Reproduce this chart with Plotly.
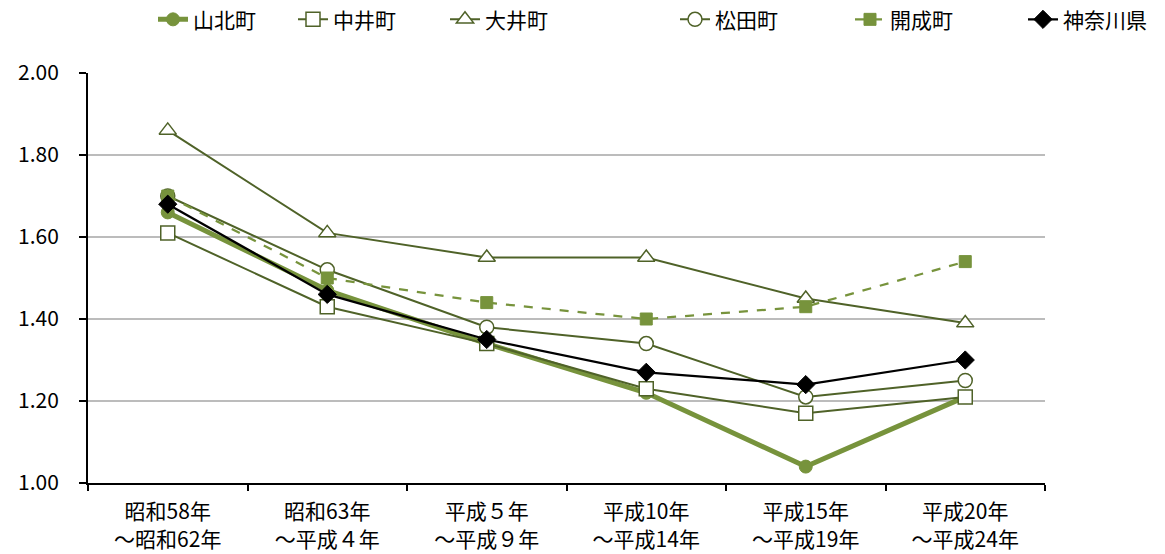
import plotly.graph_objects as go

categories = ["昭和58年<br>～昭和62年", "昭和63年<br>～平成４年", "平成５年<br>～平成９年",
              "平成10年<br>～平成14年", "平成15年<br>～平成19年", "平成20年<br>～平成24年"]

yamakita = [1.66, 1.47, 1.34, 1.22, 1.04, 1.21]
nakai = [1.61, 1.43, 1.34, 1.23, 1.17, 1.21]
ooi = [1.86, 1.61, 1.55, 1.55, 1.45, 1.39]
matsuda = [1.70, 1.52, 1.38, 1.34, 1.21, 1.25]
kaisei = [1.70, 1.50, 1.44, 1.40, 1.43, 1.54]
kanagawa = [1.68, 1.46, 1.35, 1.27, 1.24, 1.30]

y_ticks = [1.0, 1.2, 1.4, 1.6, 1.8, 2.0]
y_ticktext = ["1.00", "1.20", "1.40", "1.60", "1.80", "2.00"]
grid_vals = [1.2, 1.4, 1.6, 1.8]

FONT = "Noto Sans CJK JP"
DARK = "#4F6228"
LIGHT = "#77933C"

series = [
    ("山北町", yamakita, dict(color=LIGHT, width=5), dict(symbol="circle", size=13, color=LIGHT, line=dict(color=LIGHT, width=1))),
    ("中井町", nakai, dict(color=DARK, width=2), dict(symbol="square", size=14, color="white", line=dict(color=DARK, width=1.5))),
    ("大井町", ooi, dict(color=DARK, width=2), dict(symbol="triangle-up", size=15, color="white", line=dict(color=DARK, width=1.5))),
    ("松田町", matsuda, dict(color=DARK, width=2), dict(symbol="circle", size=14, color="white", line=dict(color=DARK, width=1.5))),
    ("開成町", kaisei, dict(color=LIGHT, width=2.25, dash="dash"), dict(symbol="square", size=12, color=LIGHT, line=dict(color=LIGHT, width=1))),
    ("神奈川県", kanagawa, dict(color="black", width=2.25), dict(symbol="diamond", size=14, color="black", line=dict(color="black", width=1))),
]

legend_text_px = [198, 338, 490, 720, 895, 1068]
L, R, T, B = 88, 120, 73, 71
W, H = 1165, 554
pw = W - L - R

fig = go.Figure()
legend_layouts = {}
for i, (name, vals, line, marker) in enumerate(series):
    key = "legend" if i == 0 else f"legend{i+1}"
    fig.add_trace(go.Scatter(x=categories, y=vals, name=name, mode="lines+markers",
                             line=line, marker=marker, legend=key))
    xpx = legend_text_px[i] - 45
    legend_layouts[key] = dict(x=(xpx - L) / pw, xanchor="left", y=1.13, yanchor="middle",
                               orientation="h", font=dict(family=FONT, size=21, color="black"),
                               bgcolor="rgba(0,0,0,0)", itemwidth=30)

shapes = [dict(type="line", xref="paper", yref="y", x0=0, x1=1, y0=g, y1=g,
               line=dict(color="#A6A6A6", width=1.5), layer="below") for g in grid_vals]

fig.update_layout(
    width=W, height=H,
    margin=dict(l=L, r=R, t=T, b=B, pad=0, autoexpand=False),
    paper_bgcolor="white", plot_bgcolor="white",
    showlegend=True,
    shapes=shapes,
    font=dict(family=FONT, size=21, color="black"),
    xaxis=dict(type="category", showgrid=False, showline=True, linecolor="black", linewidth=2,
               ticks="outside", tickson="boundaries", ticklen=6, tickcolor="black", tickwidth=1.5,
               ticklabelstandoff=9,
               tickfont=dict(family=FONT, size=21, color="black"), range=[-0.5, 5.5]),
    yaxis=dict(range=[1.0, 2.0], tickvals=y_ticks, ticktext=y_ticktext, showgrid=False,
               showline=True, linecolor="black", linewidth=2, ticks="outside", ticklen=7,
               tickcolor="black", tickwidth=1.5, zeroline=False, ticklabelstandoff=16,
               tickfont=dict(family=FONT, size=21, color="black")),
    **legend_layouts,
)

fig.write_html("out.html")
